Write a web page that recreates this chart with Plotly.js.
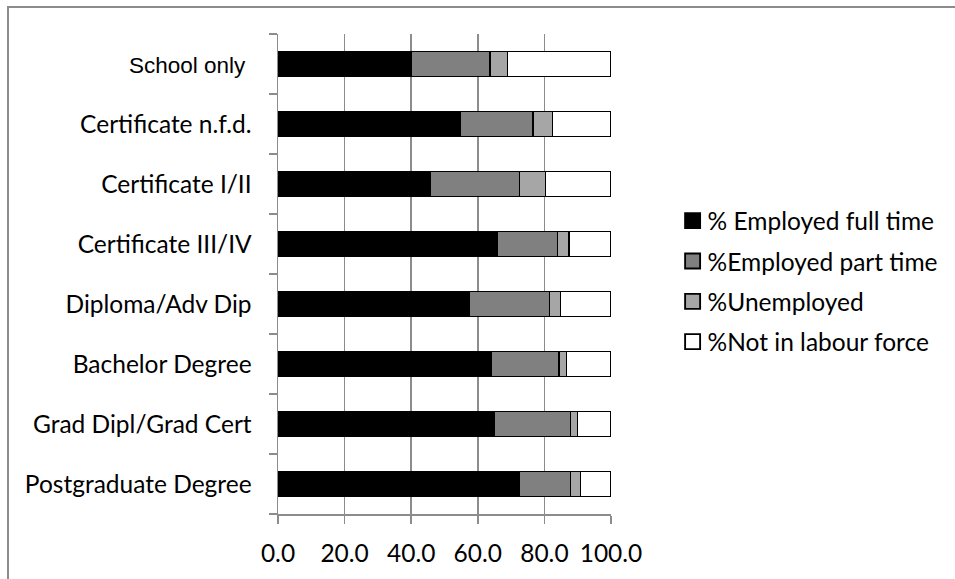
<!DOCTYPE html>
<html>
<head>
<meta charset="utf-8">
<script src="https://cdn.plot.ly/plotly-3.0.1.min.js"></script>
<style>
  html, body { margin: 0; padding: 0; background: #ffffff; }
  #wrap { position: relative; width: 955px; height: 579px; }
  #chart { position: absolute; left: 0; top: 0; width: 955px; height: 579px; }
  #frame {
    position: absolute; left: 7px; top: 6px; width: 960px; height: 590px;
    border-left: 2px solid #8c8c8c; border-top: 2px solid #8c8c8c;
    pointer-events: none;
  }
</style>
</head>
<body>
<div id="wrap">
  <div id="chart"></div>
  <div id="frame"></div>
</div>
<script>
// Labour force status by highest qualification (% of each group)
const categories = [
  'School only',
  'Certificate n.f.d.',
  'Certificate I/II',
  'Certificate III/IV',
  'Diploma/Adv Dip',
  'Bachelor Degree',
  'Grad Dipl/Grad Cert',
  'Postgraduate Degree'
];
const categoryLabels = [
  '<span style="font-family:\'Liberation Sans\', Arial, sans-serif;font-size:22.5px">School only&nbsp;</span>',
  'Certificate n.f.d.',
  'Certificate I/II',
  'Certificate III/IV',
  'Diploma/Adv Dip',
  'Bachelor Degree',
  'Grad Dipl/Grad Cert',
  'Postgraduate Degree'
];
const employedFullTime = [39.9, 54.8, 45.7, 65.9, 57.5, 64.1, 65.0, 72.4];
const employedPartTime = [23.7, 21.8, 26.8, 18.0, 24.1, 20.3, 22.8, 15.5];
const unemployed       = [5.3, 5.8, 7.9, 3.5, 3.2, 2.2, 2.2, 3.0];
const notInLabourForce = [31.1, 17.6, 19.6, 12.6, 15.2, 13.4, 10.0, 9.1];

const seriesNames = ['% Employed full time', '%Employed part time', '%Unemployed', '%Not in labour force'];
const seriesValues = [employedFullTime, employedPartTime, unemployed, notInLabourForce];
const seriesColors = ['#000000', '#808080', '#a6a6a6', '#ffffff'];

const traces = seriesValues.map((vals, i) => ({
  type: 'bar',
  orientation: 'h',
  name: seriesNames[i],
  legendgroup: 'g' + i,
  x: vals,
  y: categories,
  marker: { color: seriesColors[i], line: { color: '#000000', width: 1.5 } },
  hoverinfo: 'x+y+name'
}));

const font = { family: 'Lato, "Open Sans", sans-serif', size: 24.5, color: '#000000' };

const layout = {
  width: 955,
  height: 579,
  margin: { l: 278, r: 344, t: 34, b: 65, pad: 0, autoexpand: false },
  paper_bgcolor: '#ffffff',
  plot_bgcolor: '#ffffff',
  font: font,
  barmode: 'stack',
  bargap: 0.58,
  showlegend: true,
  legend: {
    x: 1.17, xanchor: 'left',
    y: 0.485, yanchor: 'middle',
    traceorder: 'grouped',
    tracegroupgap: 5.5,
    font: font,
    bgcolor: 'rgba(0,0,0,0)'
  },
  xaxis: {
    range: [0, 100],
    tickmode: 'linear', tick0: 0, dtick: 20,
    tickformat: '.1f',
    showgrid: true, gridcolor: '#8c8c8c', gridwidth: 1.5,
    zeroline: false,
    showline: true, linecolor: '#8c8c8c', linewidth: 1.5,
    ticks: 'outside', ticklen: 8, tickcolor: '#8c8c8c', tickwidth: 1.5,
    ticklabelstandoff: 9,
    tickfont: font,
    automargin: false,
    fixedrange: true
  },
  yaxis: {
    type: 'category',
    autorange: 'reversed',
    tickmode: 'array',
    tickvals: categories,
    ticktext: categoryLabels,
    tickson: 'boundaries',
    showgrid: false,
    zeroline: false,
    showline: true, linecolor: '#8c8c8c', linewidth: 1.5,
    ticks: 'outside', ticklen: 8, tickcolor: '#8c8c8c', tickwidth: 1.5,
    ticklabelstandoff: 20,
    tickfont: font,
    automargin: false,
    fixedrange: true
  }
};

Plotly.newPlot('chart', traces, layout, { displayModeBar: false, staticPlot: true }).then(gd => {
  // slightly larger legend swatches, sitting closer to their labels
  gd.querySelectorAll('.legend .legendpoints path').forEach(p => {
    const t = p.getAttribute('transform') || '';
    p.setAttribute('transform', t + ' translate(5,0) scale(1.25)');
  });
});
</script>
</body>
</html>
